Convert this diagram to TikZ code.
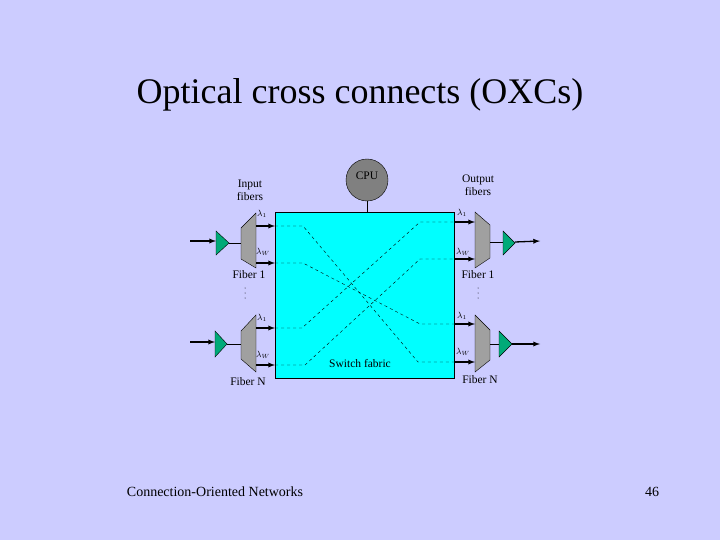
\documentclass[tikz,border=0pt]{standalone}
\usepackage{fontspec}
\setmainfont{Liberation Serif}
\definecolor{bg}{RGB}{204,204,255}
\definecolor{cy}{RGB}{0,255,255}
\definecolor{gr}{RGB}{0,170,120}
\definecolor{gy}{RGB}{160,160,160}
\definecolor{cg}{RGB}{128,128,128}
\begin{document}
\begin{tikzpicture}[x=1pt,y=-1pt,
 lab/.style={font=\fontsize{11.5}{13}\selectfont,align=center,inner sep=0},
 lam/.style={font=\fontsize{9}{10}\selectfont,inner sep=0},
 amp/.style={fill=gr,draw=black,thin},
 dmx/.style={fill=gy,draw=black,thin},
 arr/.style={-latex,line width=1.3pt},
 dsh/.style={dashed,thin},
 dot/.style={fill=black,circle,inner sep=0,minimum size=1pt}]
\fill[bg] (0,0) rectangle (720,540);
\node[font=\fontsize{36}{40}\selectfont] (title) at (360,95) {Optical cross connects (OXCs)};
\node[draw,fill=cy,minimum width=179pt,minimum height=166pt,inner sep=0] (sw) at (364.5,295) {};
\node[draw,circle,fill=cg,minimum size=42pt,inner sep=0] (cpu) at (367,180) {};
\node[lab,anchor=north] at (367,172) {CPU};
\draw (cpu.south) -- (cpu.south |- sw.north);
\draw[dmx] (241,228) -- (256,213) -- (256,268) -- (241,259) -- cycle;
\draw[dmx] (241,331) -- (256,315) -- (256,372) -- (241,359) -- cycle;
\draw[dmx] (475,212) -- (490,225) -- (490,258) -- (475,268) -- cycle;
\draw[dmx] (475,315) -- (490,330) -- (490,360) -- (475,372) -- cycle;
\draw[amp] (216,231) -- (229,243) -- (216,255) -- cycle;
\draw[amp] (215,331) -- (227,344) -- (215,357) -- cycle;
\draw[amp] (503,231) -- (515,243) -- (503,255) -- cycle;
\draw[amp] (499,331) -- (512,344) -- (499,357) -- cycle;
\coordinate (i1) at (190,241); \coordinate (i2) at (190,342);
\coordinate (o1) at (540,241); \coordinate (o2) at (540,344);
\draw[arr] (i1) -- (216,241);
\draw[arr] (i2) -- (215,342);
\draw (229,243) -- (241,243); \draw (227,344) -- (241,344);
\draw (490,242) -- (503,242); \draw (490,344) -- (499,344);
\draw[arr] (515,242) -- (o1);
\draw[arr] (512,344) -- (o2);
\foreach \y in {226,263,328,365} \draw[arr] (256,\y) -- (275,\y);
\foreach \y in {222,259,324,362} \draw[arr] (454,\y) -- (475,\y);
\draw[dsh] (275,226) -- (303,226) -- (418,362) -- (454,362);
\draw[dsh] (275,263) -- (303,263) -- (420,324) -- (454,324);
\draw[dsh] (275,328) -- (302,328) -- (420,222) -- (454,222);
\draw[dsh] (275,365) -- (305,365) -- (420,259) -- (454,259);
\node[lab] at (250,190) {Input\\fibers};
\node[lab] at (478,185) {Output\\fibers};
\node[lab] at (360,364) {Switch fabric};
\node[lab] at (249,275) {Fiber 1};
\node[lab] at (248,382) {Fiber N};
\node[lab] at (478,275) {Fiber 1};
\node[lab] at (480,380) {Fiber N};
\foreach \x in {245,478} \foreach \y in {288,293,298} \node[dot] at (\x,\y) {};
\node[lam] at (262,214) {$\lambda_1$};
\node[lam] at (263,252) {$\lambda_W$};
\node[lam] at (262,318) {$\lambda_1$};
\node[lam] at (263,355) {$\lambda_W$};
\node[lam] at (462,213) {$\lambda_1$};
\node[lam] at (463,252) {$\lambda_W$};
\node[lam] at (462,316) {$\lambda_1$};
\node[lam] at (463,352) {$\lambda_W$};
\node[lab,font=\fontsize{14}{16}\selectfont] at (215,492) {Connection-Oriented Networks};
\node[lab,font=\fontsize{14}{16}\selectfont] at (652,492) {46};
\end{tikzpicture}
\end{document}
